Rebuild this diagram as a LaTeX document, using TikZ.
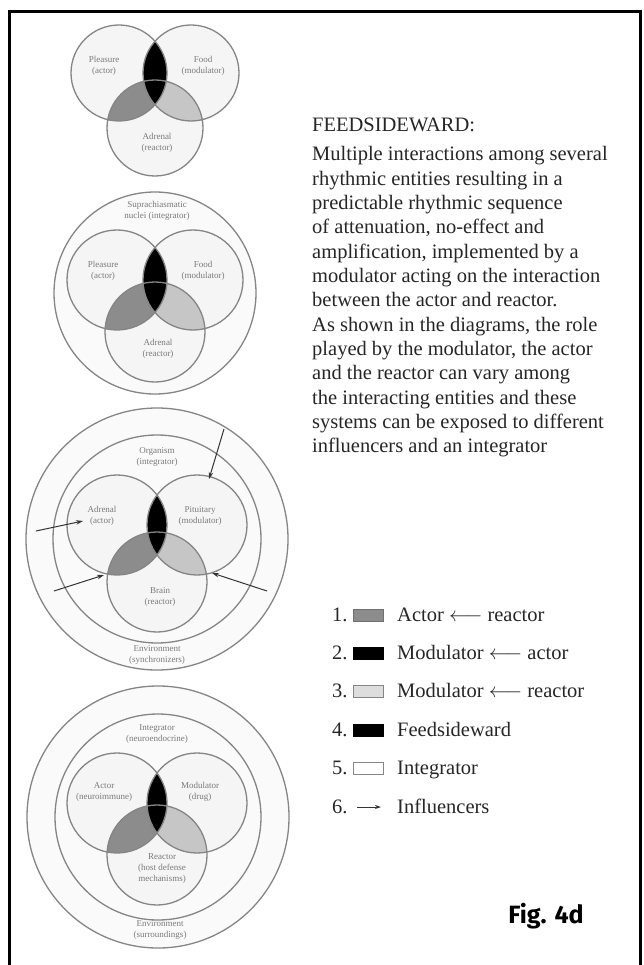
\documentclass[tikz,border=0pt]{standalone}
\usepackage{fontspec}
\setmainfont{Liberation Serif}
\newfontfamily\figfont{Fira Sans}
\usetikzlibrary{arrows.meta}
\definecolor{cline}{HTML}{858585}
\definecolor{cfill}{HTML}{F5F5F5}
\definecolor{rfill}{HTML}{FAFAFA}
\definecolor{dgray}{HTML}{8C8C8C}
\definecolor{lgray}{HTML}{C6C6C6}
\definecolor{txt}{HTML}{262626}
\definecolor{lblc}{HTML}{7A7A7A}
\newcommand\vennthree[5]{%
  \coordinate (VL) at ({#1-#2},#3);
  \coordinate (VR) at ({#1+#2},#3);
  \coordinate (VB) at (#1,#4);
  \fill[cfill] (VL) circle[radius=#5] (VR) circle[radius=#5] (VB) circle[radius=#5];
  \begin{scope}\clip (VL) circle[radius=#5]; \fill[dgray] (VB) circle[radius=#5];\end{scope}
  \begin{scope}\clip (VR) circle[radius=#5]; \fill[lgray] (VB) circle[radius=#5];\end{scope}
  \begin{scope}\clip (VL) circle[radius=#5]; \fill[black] (VR) circle[radius=#5];\end{scope}
  \draw[circline] (VL) circle[radius=#5] (VR) circle[radius=#5] (VB) circle[radius=#5];
}
\newcommand\ringpair[4]{%
  \fill[rfill] (#1,#2) circle[radius=#3];
  \draw[circline] (#1,#2) circle[radius=#3];
  \ifdim #4pt>0pt \draw[circline] (#1,#2) circle[radius=#4];\fi
}
\begin{document}
\begin{tikzpicture}[x=1pt,y=-1pt,
  circline/.style={draw=cline,line width=1.3pt},
  lbl/.style={font=\fontsize{9}{11}\selectfont,text=lblc,align=center,inner sep=0pt},
  body/.style={font=\fontsize{20.5}{24}\selectfont,text=txt,inner sep=0pt,anchor=base west},
  legbox/.style={line width=0.8pt},
  infl/.style={draw=black!80,line width=1pt,-{Stealth[length=7pt,width=4.5pt]}}]
\useasboundingbox (0,0) rectangle (643,965);
\fill[white] (0,0) rectangle (643,965);
% frame
\draw[line width=3pt] (9.5,965) -- (9.5,11.5) -- (640,11.5) -- (640,965);

% diagram 1
\vennthree{155}{36}{73}{128}{48}
\node[lbl] (d1l) at (104,66) {Pleasure\\(actor)};
\node[lbl] (d1r) at (203,66) {Food\\(modulator)};
\node[lbl] (d1b) at (157,143) {Adrenal\\(reactor)};

% diagram 2
\ringpair{155}{293}{101}{0}
\vennthree{155}{38}{280}{332}{50}
\node[lbl] (d2t) at (157,211) {Suprachiasmatic\\nuclei (integrator)};
\node[lbl] (d2l) at (103,271) {Pleasure\\(actor)};
\node[lbl] (d2r) at (203,271) {Food\\(modulator)};
\node[lbl] (d2b) at (158,349) {Adrenal\\(reactor)};

% diagram 3
\ringpair{157}{539}{131}{104}
\vennthree{157}{40}{525}{582}{50}
\node[lbl] (d3t) at (157,457) {Organism\\(integrator)};
\node[lbl] (d3l) at (102,516) {Adrenal\\(actor)};
\node[lbl] (d3r) at (200,516) {Pituitary\\(modulator)};
\node[lbl] (d3b) at (160,597) {Brain\\(reactor)};
\node[lbl] (d3e) at (157,655) {Environment\\(synchronizers)};
\coordinate (a1s) at (224,429);
\coordinate (a1e) at (209,479);
\coordinate (a2s) at (36,531);
\coordinate (a2e) at (83,521);
\coordinate (a3s) at (54,591);
\coordinate (a3e) at (104,575);
\coordinate (a4s) at (267,591);
\coordinate (a4e) at (212,573);
\draw[infl] (a1s) -- (a1e);
\draw[infl] (a2s) -- (a2e);
\draw[infl] (a3s) -- (a3e);
\draw[infl] (a4s) -- (a4e);

% diagram 4
\ringpair{158}{817}{131}{103}
\vennthree{157}{40}{803}{855}{50}
\node[lbl] (d4t) at (157,734) {Integrator\\(neuroendocrine)};
\node[lbl] (d4l) at (104,792) {Actor\\(neuroimmune)};
\node[lbl] (d4r) at (200,792) {Modulator\\(drug)};
\node[lbl] (d4b) at (162,869) {Reactor\\(host defense\\mechanisms)};
\node[lbl] (d4e) at (160,930) {Environment\\(surroundings)};

% text block
\node[body] (head) at (312,132) {FEEDSIDEWARD:};
\foreach \t [count=\i] in {{Multiple interactions among several},{rhythmic entities resulting in a},{predictable rhythmic sequence},{of attenuation, no-effect and},{amplification, implemented by a},{modulator acting on the interaction},{between the actor and reactor.},{As shown in the diagrams, the role},{played by the modulator, the actor},{and the reactor can vary among},{the interacting entities and these},{systems can be exposed to different},{influencers and an integrator}}
  \node[body] (t\i) at (312,{161+24.3*(\i-1)}) {\t};

% legend
\node[body] (n1) at (332,621) {1.};
\node[body] (n2) at (332,659.4) {2.};
\node[body] (n3) at (332,697.8) {3.};
\node[body] (n4) at (332,736.2) {4.};
\node[body] (n5) at (332,774.6) {5.};
\node[body] (n6) at (332,813) {6.};
\draw[legbox,fill=dgray,draw=dgray!80!black] (353,609) rectangle (383,621);
\draw[legbox,fill=black] (353,647.4) rectangle (383,659.4);
\draw[legbox,fill=lgray!60,draw=cline] (353,685.8) rectangle (383,697.8);
\draw[legbox,fill=black] (353,724.2) rectangle (383,736.2);
\draw[legbox,fill=white,draw=cline] (353,762.6) rectangle (383,774.6);
\coordinate (l6s) at (357,807);
\coordinate (l6e) at (381,807);
\draw[draw=black!80,line width=0.9pt,-{Stealth[length=6pt,width=4pt]}] (l6s) -- (l6e);
\node[body] (e1) at (397,621) {Actor $\longleftarrow$ reactor};
\node[body] (e2) at (397,659.4) {Modulator $\longleftarrow$ actor};
\node[body] (e3) at (397,697.8) {Modulator $\longleftarrow$ reactor};
\node[body] (e4) at (397,736.2) {Feedsideward};
\node[body] (e5) at (397,774.6) {Integrator};
\node[body] (e6) at (397,813) {Influencers};

% figure label
\node[font=\figfont\bfseries\fontsize{25}{28}\selectfont,inner sep=0pt] (fig) at (546,916) {Fig. 4d};
\end{tikzpicture}
\end{document}
